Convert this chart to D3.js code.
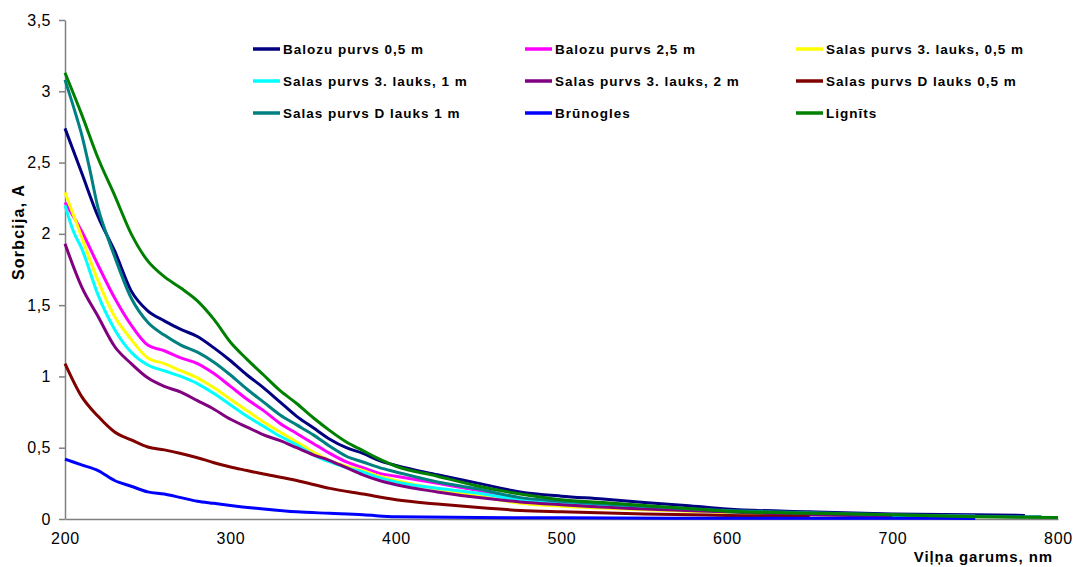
<!DOCTYPE html>
<html><head><meta charset="utf-8">
<script src="https://cdn.jsdelivr.net/npm/d3@7"></script>
<style>body{margin:0;background:#fff;}svg{display:block;font-family:Arial,"Liberation Sans",sans-serif;}</style>
</head><body><svg id="c" width="1075" height="567"></svg>
<script>
const seriesNames = ["Balozu purvs 0,5 m","Balozu purvs 2,5 m","Salas purvs 3. lauks, 0,5 m","Salas purvs 3. lauks, 1 m","Salas purvs 3. lauks, 2 m","Salas purvs D lauks 0,5 m","Salas purvs D lauks 1 m","Brūnogles","Lignīts"];
const seriesColors = ["#000080","#FF00FF","#FFFF00","#00FFFF","#800080","#800000","#008080","#0000FF","#008000"];
const yTicks = [0,0.5,1,1.5,2,2.5,3,3.5];
const xTicks = [200,300,400,500,600,700,800];

const wlBalozu05 = [200,210,220,230,240,250,260,270,280,290,300,310,320,330,340,350,360,370,380,390,400,425,450,475,500,525,550,575,600,650,700,750,780];
const valBalozu05 = [2.74,2.43,2.12,1.88,1.60,1.46,1.39,1.33,1.28,1.20,1.11,1.01,0.92,0.82,0.72,0.64,0.56,0.50,0.46,0.41,0.375,0.31,0.25,0.19,0.16,0.14,0.115,0.095,0.07,0.05,0.035,0.03,0.025];

const wlBalozu25 = [200,210,220,230,240,250,260,270,280,290,300,310,320,330,340,350,360,370,380,390,400,425,450,475,500,550,600,650,700,750];
const valBalozu25 = [2.22,2.02,1.78,1.55,1.36,1.22,1.18,1.13,1.09,1.02,0.93,0.84,0.76,0.67,0.60,0.53,0.46,0.40,0.36,0.32,0.30,0.25,0.20,0.145,0.12,0.085,0.055,0.04,0.025,0.02];

const wlSalas3_05 = [200,210,220,230,240,250,260,270,280,290,300,310,320,330,340,350,360,370,380,390,400,425,450,475,500,550,600,650,700];
const valSalas3_05 = [2.29,1.98,1.67,1.42,1.26,1.13,1.09,1.04,0.99,0.92,0.84,0.76,0.68,0.61,0.54,0.47,0.41,0.37,0.34,0.30,0.27,0.21,0.16,0.11,0.09,0.065,0.045,0.03,0.02];

const wlSalas3_1 = [200,205,210,220,230,240,250,260,270,280,290,300,310,320,330,340,350,360,370,380,390,400,425,450,475,500,550,600,650,700,750];
const valSalas3_1 = [2.20,2.02,1.90,1.57,1.33,1.17,1.08,1.04,1.00,0.95,0.88,0.80,0.72,0.65,0.58,0.52,0.45,0.40,0.36,0.33,0.29,0.26,0.215,0.18,0.135,0.11,0.08,0.05,0.035,0.025,0.02];

const wlSalas3_2 = [200,210,220,230,240,250,260,270,280,290,300,310,320,330,340,350,360,370,380,390,400,425,450,475,500,550,600,650,700];
const valSalas3_2 = [1.93,1.63,1.42,1.21,1.09,0.99,0.93,0.89,0.83,0.77,0.70,0.645,0.59,0.55,0.50,0.45,0.41,0.36,0.31,0.27,0.24,0.19,0.15,0.12,0.10,0.07,0.05,0.03,0.02];

const wlSalasD_05 = [200,210,220,230,240,250,260,270,280,290,300,310,320,340,360,380,400,425,450,475,500,550,600,650];
const valSalasD_05 = [1.09,0.86,0.72,0.61,0.555,0.505,0.485,0.46,0.43,0.395,0.365,0.34,0.315,0.27,0.215,0.175,0.135,0.105,0.08,0.06,0.05,0.035,0.025,0.015];

const wlSalasD_1 = [200,207,210,215,220,225,230,240,250,260,270,280,290,300,310,320,330,340,350,360,370,380,390,400,425,450,475,500,550,600,650,700,750,790];
const valSalasD_1 = [3.08,2.82,2.70,2.45,2.18,2.00,1.84,1.55,1.38,1.29,1.22,1.17,1.10,1.01,0.91,0.82,0.73,0.66,0.59,0.51,0.44,0.40,0.36,0.33,0.26,0.21,0.15,0.125,0.09,0.06,0.045,0.03,0.02,0.015];

const wlBrunogles = [200,210,220,230,240,250,260,270,280,290,300,320,340,360,380,400,450,500,600,700,750];
const valBrunogles = [0.42,0.38,0.34,0.27,0.23,0.19,0.175,0.15,0.125,0.11,0.095,0.07,0.05,0.04,0.03,0.015,0.01,0.008,0.005,0.005,0.004];

const wlLignits = [200,210,220,230,240,250,260,270,280,290,300,310,320,330,340,350,360,370,380,390,400,425,450,475,500,525,550,575,600,650,700,750,800];
const valLignits = [3.13,2.84,2.53,2.27,2.00,1.81,1.70,1.62,1.53,1.40,1.24,1.12,1.01,0.90,0.81,0.71,0.62,0.54,0.48,0.42,0.37,0.30,0.23,0.175,0.135,0.115,0.095,0.075,0.055,0.04,0.03,0.015,0.01];

const seriesX = [wlBalozu05,wlBalozu25,wlSalas3_05,wlSalas3_1,wlSalas3_2,wlSalasD_05,wlSalasD_1,wlBrunogles,wlLignits];
const seriesY = [valBalozu05,valBalozu25,valSalas3_05,valSalas3_1,valSalas3_2,valSalasD_05,valSalasD_1,valBrunogles,valLignits];

const svg = d3.select("#c");
const L = 65, R = 1058, T = 20, B = 519;
const x = d3.scaleLinear().domain([200,800]).range([L,R]);
const y = d3.scaleLinear().domain([0,3.5]).range([B,T]);
const fmt = d => String(d).replace(".", ",");

// y axis
const ya = svg.append("g").attr("transform",`translate(${L},0)`)
  .call(d3.axisLeft(y).tickValues(yTicks).tickSize(6).tickSizeOuter(0).tickFormat(fmt).tickPadding(8));
ya.select(".domain").attr("stroke","#808080").attr("stroke-width",1.5);
ya.selectAll(".tick line").attr("stroke","#808080").attr("stroke-width",1.5);
ya.selectAll("text").attr("font-size",16).attr("letter-spacing",0.5).attr("fill","#000").attr("font-family","Arial, 'Liberation Sans', sans-serif");

// x axis
const xa = svg.append("g").attr("transform",`translate(0,${B})`)
  .call(d3.axisBottom(x).tickValues(xTicks).tickSize(0).tickSizeOuter(0).tickPadding(14));
xa.select(".domain").attr("stroke","#808080").attr("stroke-width",1.5);
xa.selectAll("text").attr("font-size",16).attr("letter-spacing",0.8).attr("fill","#000").attr("font-family","Arial, 'Liberation Sans', sans-serif");

// lines
const line = d3.line().x(d=>x(d[0])).y(d=>y(d[1])).curve(d3.curveMonotoneX);
seriesNames.forEach((n,i)=>{
  const pts = seriesX[i].map((w,j)=>[w,seriesY[i][j]]);
  svg.append("path").datum(pts).attr("d",line).attr("fill","none")
    .attr("stroke",seriesColors[i]).attr("stroke-width",3).attr("stroke-linejoin","round");
});

// axis titles
svg.append("text").attr("transform","translate(24,232) rotate(-90)").attr("text-anchor","middle")
  .attr("font-weight","bold").attr("font-size",16).attr("letter-spacing",1.2).text("Sorbcija, A");
svg.append("text").attr("x",1053).attr("y",562).attr("text-anchor","end")
  .attr("font-weight","bold").attr("font-size",15).attr("letter-spacing",0.9).text("Viļņa garums, nm");

// legend
const colX = [253,525,796], rowY = [49,81,113];
seriesNames.forEach((n,i)=>{
  const cx = colX[i%3], cy = rowY[Math.floor(i/3)];
  svg.append("line").attr("x1",cx).attr("x2",cx+27).attr("y1",cy).attr("y2",cy)
    .attr("stroke",seriesColors[i]).attr("stroke-width",3.5);
  svg.append("text").attr("x",cx+30).attr("y",cy+5).attr("font-size",13.5).attr("font-weight","bold")
    .attr("letter-spacing",1.0).text(n);
});
</script></body></html>
